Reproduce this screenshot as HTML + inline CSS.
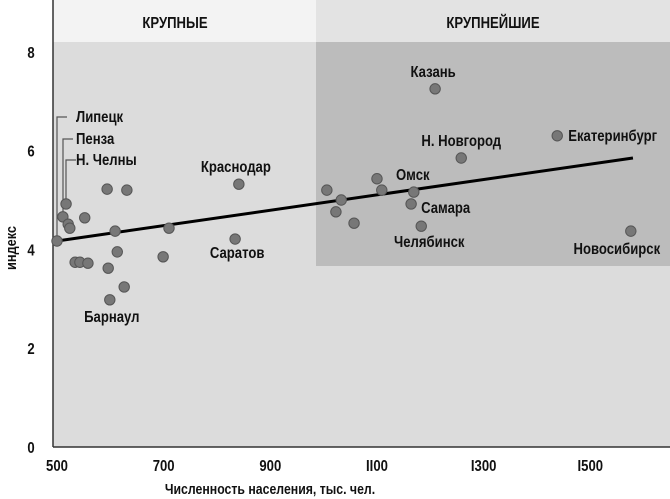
<!DOCTYPE html>
<html><head><meta charset="utf-8"><style>
body{margin:0;background:#fff}
svg{display:block;font-family:"Liberation Sans Narrow","Liberation Sans","DejaVu Sans Condensed",sans-serif;font-weight:bold}
</style></head><body>
<svg id="chart" width="670" height="499" viewBox="0 0 670 499">
<rect x="53" y="0" width="263" height="42" fill="#f3f3f3"/>
<rect x="316" y="0" width="354" height="42" fill="#e3e3e3"/>
<text x="175" y="28" font-size="16" text-anchor="middle" fill="#111">КРУПНЫЕ</text>
<text x="493" y="28" font-size="16" text-anchor="middle" fill="#111">КРУПНЕЙШИЕ</text>
<rect x="53" y="42" width="617" height="405" fill="#dcdcdc"/>
<rect x="316" y="42" width="354" height="224" fill="#bcbcbc"/>
<line x1="53" y1="0" x2="53" y2="447" stroke="#333" stroke-width="1.5"/>
<line x1="53" y1="447" x2="670" y2="447" stroke="#333" stroke-width="1.5"/>
<g id="ticks"></g>
<g id="leaders" stroke="#555" stroke-width="1.2" fill="none"></g>
<line id="trend" stroke="#000" stroke-width="3"/>
<g id="points"></g>
<g id="labels" font-size="16" fill="#111"></g>
<text x="270" y="494" font-size="15" text-anchor="middle" fill="#111">Численность населения, тыс. чел.</text>
<text id="ytitle" transform="translate(16,248) rotate(-90) scale(0.85,1)" font-size="15" text-anchor="middle" fill="#111">индекс</text>
</svg>
<script>
const population=[517,511,521,524,552,500,594,631,609,710,841,834,613,699,534,543,558,596,626,599,1209,1438,1258,1006,1033,1023,1057,1100,1109,1169,1164,1183,1576];
const indexValues=[4.92,4.66,4.51,4.43,4.64,4.17,5.22,5.20,4.37,4.43,5.32,4.21,3.95,3.85,3.74,3.74,3.72,3.62,3.24,2.98,7.25,6.30,5.85,5.20,5.00,4.76,4.53,5.43,5.20,5.16,4.92,4.47,4.37];
const xTicks=[500,700,900,1100,1300,1500];
const xTickLabels=["500","700","900","II00","I300","I500"];
const yTicks=[0,2,4,6,8];
const trendX=[500,1580];
const trendY=[4.17,5.85];
const cityLabels=[
 {name:"Краснодар",i:10,dx:-3,dy:-12,anchor:"middle"},
 {name:"Саратов",i:11,dx:2,dy:19,anchor:"middle"},
 {name:"Барнаул",i:19,dx:2,dy:22,anchor:"middle"},
 {name:"Казань",i:20,dx:-2,dy:-12,anchor:"middle"},
 {name:"Екатеринбург",i:21,dx:11,dy:5,anchor:"start"},
 {name:"Н. Новгород",i:22,dx:0,dy:-12,anchor:"middle"},
 {name:"Омск",i:29,dx:-1,dy:-12,anchor:"middle"},
 {name:"Самара",i:30,dx:10,dy:9,anchor:"start"},
 {name:"Челябинск",i:31,dx:8,dy:21,anchor:"middle"},
 {name:"Новосибирск",i:32,dx:-14,dy:23,anchor:"middle"}
];
const leaderLabels=[{name:"Липецк",i:5,lx:57,ty:122},{name:"Пенза",i:1,lx:63,ty:144},{name:"Н. Челны",i:0,lx:66,ty:165}];
const NS="http://www.w3.org/2000/svg";
function xs(v){return 57+(v-500)*0.5333;}
function ys(v){return 447-v*49.4;}
function mk(tag,attrs,parent){const e=document.createElementNS(NS,tag);for(const k in attrs)e.setAttribute(k,attrs[k]);parent.appendChild(e);return e;}
const ticks=document.getElementById('ticks');
xTicks.forEach((t,k)=>{const e=mk('text',{x:xs(t),y:471,'font-size':16,'text-anchor':'middle',fill:'#111'},ticks);e.textContent=xTickLabels[k];

});
yTicks.forEach(t=>{const e=mk('text',{x:31,y:ys(t)+6,'font-size':16,'text-anchor':'middle',fill:'#111'},ticks);e.textContent=String(t);

});
const tr=document.getElementById('trend');
tr.setAttribute('x1',xs(trendX[0]));tr.setAttribute('y1',ys(trendY[0]));tr.setAttribute('x2',xs(trendX[1]));tr.setAttribute('y2',ys(trendY[1]));
const pts=document.getElementById('points');
population.forEach((p,k)=>{const c=mk('circle',{cx:xs(p),cy:ys(indexValues[k]),r:5.2,fill:'#777',stroke:'#555','stroke-width':1},pts);

});
const lab=document.getElementById('labels');
cityLabels.forEach(l=>{const e=mk('text',{x:xs(population[l.i])+l.dx,y:ys(indexValues[l.i])+l.dy,'text-anchor':l.anchor},lab);e.textContent=l.name;

});
const ld=document.getElementById('leaders');
leaderLabels.forEach(l=>{const py=ys(indexValues[l.i]);
const pl=mk('polyline',{points:`${l.lx+10},${l.ty-5} ${l.lx},${l.ty-5} ${l.lx},${py-4}`},ld);


const e=mk('text',{x:76,y:l.ty},lab);e.textContent=l.name;

});
// condense text horizontally to mimic narrow font
document.querySelectorAll('#chart text').forEach(t=>{
 if(t.id==='ytitle')return;
 const x=parseFloat(t.getAttribute('x')),y=parseFloat(t.getAttribute('y'));
 t.setAttribute('x',0);t.setAttribute('y',0);
 t.setAttribute('transform',`translate(${x},${y}) scale(0.82,1)`);
});
</script>
</body></html>
